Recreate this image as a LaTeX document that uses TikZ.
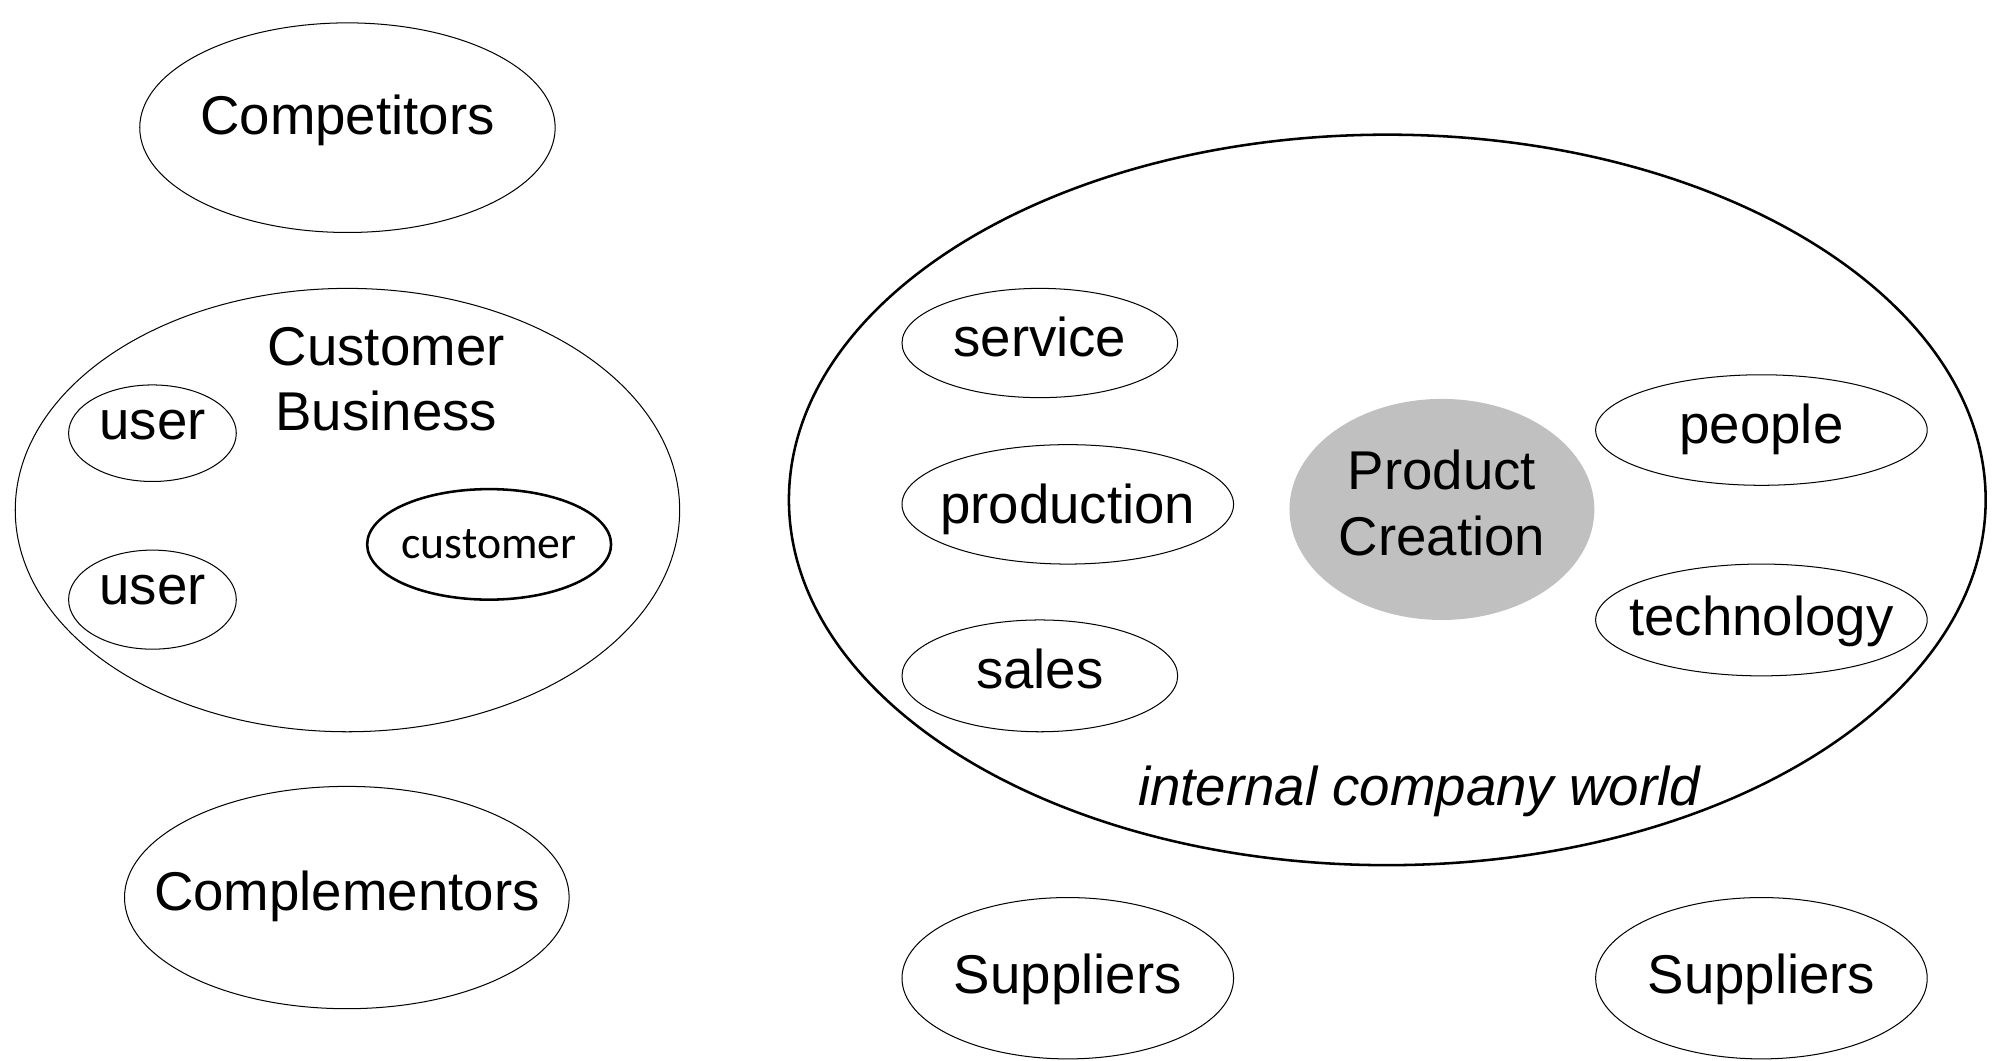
\documentclass[tikz,border=0pt]{standalone}
\usepackage{fontspec}
\setmainfont{Liberation Sans}
\newfontfamily\calib{Carlito}
\usetikzlibrary{shapes.geometric}
\definecolor{pcgray}{RGB}{192,192,192}
\begin{document}
\begin{tikzpicture}[x=1pt,y=-1pt,
  oval/.style={draw=black,ellipse,inner sep=0pt,line width=0.8pt},
  thickoval/.style={draw=black,ellipse,inner sep=0pt,line width=2pt},
  lbl/.style={anchor=base,inner sep=0pt,font=\fontsize{43}{51.6}\selectfont},
  lbl2/.style={anchor=base,inner sep=0pt,align=center,font=\fontsize{43}{51.6}\selectfont}]
\useasboundingbox (0,0) rectangle (1568,835);
% left side
\node[oval,minimum width=327pt,minimum height=165pt] (comp) at (273.5,100.5) {};
\node[lbl] (compt) at (273.5,106) {Competitors};
\node[oval,minimum width=523pt,minimum height=349pt] (cb) at (273.5,401.5) {};
\node[lbl2] (cbt) at (304,339) {Customer\\Business};
\node[oval,minimum width=132pt,minimum height=76pt] (u1) at (120,341) {};
\node[lbl] (u1t) at (120,346) {user};
\node[oval,minimum width=132pt,minimum height=78pt] (u2) at (120,472) {};
\node[lbl] (u2t) at (120,476) {user};
\node[thickoval,minimum width=192pt,minimum height=87pt] (cu) at (385,428.5) {};
\node[anchor=base,inner sep=0pt,font=\calib\fontsize{36}{43}\selectfont] (cut) at (385,440) {customer};
\node[oval,minimum width=350pt,minimum height=175pt] (cpl) at (273,706.5) {};
\node[lbl] (cplt) at (273,717) {Complementors};
% right side
\node[thickoval,minimum width=942pt,minimum height=575pt] (icw) at (1092,393.5) {};
\node[oval,minimum width=217pt,minimum height=86pt] (srv) at (818.5,270) {};
\node[lbl] (srvt) at (818.5,281) {service};
\node[oval,minimum width=261pt,minimum height=94pt] (prd) at (840.5,397) {};
\node[lbl] (prdt) at (840.5,412) {production};
\node[oval,minimum width=217pt,minimum height=88pt] (sal) at (818.5,532) {};
\node[lbl] (salt) at (818.5,542) {sales};
\node[ellipse,fill=pcgray,inner sep=0pt,minimum width=240pt,minimum height=174pt] (pc) at (1135,401) {};
\node[lbl2] (pct) at (1135,437) {Product\\Creation};
\node[oval,minimum width=261pt,minimum height=87pt] (ppl) at (1386.5,338.5) {};
\node[lbl] (pplt) at (1386.5,349) {people};
\node[oval,minimum width=261pt,minimum height=88pt] (tec) at (1386.5,488) {};
\node[lbl] (tect) at (1386.5,500) {technology};
\node[lbl,font=\fontsize{43}{51.6}\selectfont\itshape] (icwt) at (1117,634) {internal company world};
\node[oval,minimum width=261pt,minimum height=127pt] (sup1) at (840.5,770) {};
\node[lbl] (sup1t) at (840.5,782) {Suppliers};
\node[oval,minimum width=261pt,minimum height=127pt] (sup2) at (1386.5,770) {};
\node[lbl] (sup2t) at (1386.5,782) {Suppliers};
\end{tikzpicture}
\end{document}
